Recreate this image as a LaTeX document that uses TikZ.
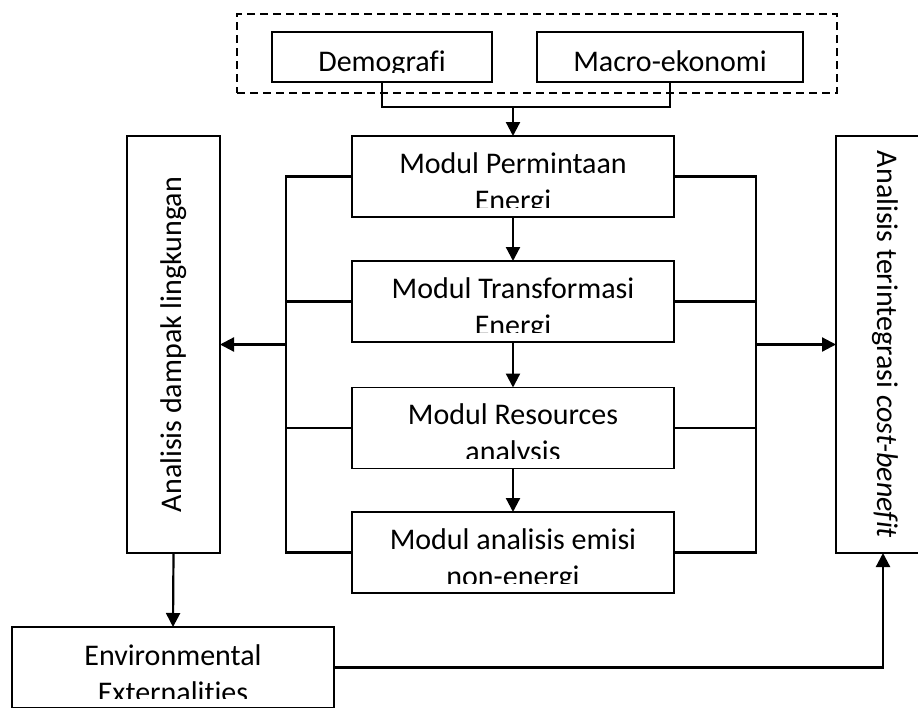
\documentclass[tikz,border=0pt]{standalone}
\usepackage{fontspec}
\setmainfont{Carlito}[Ligatures=NoCommon]
\usetikzlibrary{arrows.meta}
\begin{document}
\begin{tikzpicture}[x=1pt,y=-1pt,
  box/.style={draw, line width=1.5pt, rectangle, inner sep=0pt, outer sep=0pt},
  dashbox/.style={draw, line width=1.5pt, dash pattern=on 8pt off 5pt, rectangle, inner sep=0pt, outer sep=0pt},
  txt/.style={anchor=base, inner sep=0pt, font=\fontsize{30}{37}\selectfont},
  vtxt/.style={inner sep=0pt, font=\fontsize{30}{37}\selectfont},
  conn/.style={line width=2.2pt},
  arr/.style={conn, -{Triangle[length=14pt,width=14pt]}}]
\clip (0,0) rectangle (918,707);
\fill[white] (0,0) rectangle (918,707);

% group of inputs
\node[dashbox, minimum width=600pt, minimum height=79pt] (grp) at (537,53.5) {};
\node[box, minimum width=220pt, minimum height=50pt] (demo) at (382,57) {};
\node[box, minimum width=266pt, minimum height=50pt] (macro) at (670,57) {};
\begin{scope}
  \clip (272,32) rectangle (492,72);
  \node[txt] (demoT) at (382,71) {Demografi};
\end{scope}
\begin{scope}
  \clip (537,32) rectangle (803,72);
  \node[txt] (macroT) at (670,71) {Macro-ekonomi};
\end{scope}

% modules
\node[box, minimum width=322pt, minimum height=81pt] (perm) at (513,176.5) {};
\node[box, minimum width=322pt, minimum height=81pt] (trans) at (513,301.5) {};
\node[box, minimum width=322pt, minimum height=81pt] (res) at (513,428) {};
\node[box, minimum width=322pt, minimum height=81pt] (emisi) at (513,552.5) {};
\begin{scope}
  \clip (352,136) rectangle (674,207);
  \node[txt] (permA) at (513,173) {Modul Permintaan};
  \node[txt] (permB) at (513,210) {Energi};
\end{scope}
\begin{scope}
  \clip (352,261) rectangle (674,332);
  \node[txt] (transA) at (513,298) {Modul Transformasi};
  \node[txt] (transB) at (513,335) {Energi};
\end{scope}
\begin{scope}
  \clip (352,387.5) rectangle (674,458.5);
  \node[txt] (resA) at (513,424.5) {Modul Resources};
  \node[txt] (resB) at (513,461.5) {analysis};
\end{scope}
\begin{scope}
  \clip (352,512) rectangle (674,583);
  \node[txt] (emisiA) at (513,549) {Modul analisis emisi};
  \node[txt] (emisiB) at (513,586) {non-energi};
\end{scope}

% side boxes
\node[box, minimum width=93pt, minimum height=417pt] (left) at (173.5,344.5) {};
\node[vtxt, rotate=90] (leftT) at (173.5,344.5) {Analisis dampak lingkungan};
\node[box, minimum width=94pt, minimum height=417pt] (right) at (883,344.5) {};
\node[vtxt, rotate=-90] (rightT) at (885,344.5) {Analisis terintegrasi \textit{cost-benefit}};

% environmental externalities
\node[box, minimum width=322pt, minimum height=81pt] (env) at (173,667.5) {};
\begin{scope}
  \clip (12,627) rectangle (334,698);
  \node[txt] (envA) at (173,665) {Environmental};
  \node[txt] (envB) at (173,702) {Externalities};
\end{scope}

% connectors
\coordinate (jmid) at (513,107);
\coordinate (lbus) at (286,0);
\coordinate (rbus) at (756,0);
\draw[conn] (demo.south) -- (demo.south |- jmid) -- (macro.south |- jmid) -- (macro.south);
\draw[arr] (jmid) -- (perm.north);
\draw[arr] (perm.south) -- (trans.north);
\draw[arr] (trans.south) -- (res.north);
\draw[arr] (res.south) -- (emisi.north);

\draw[conn] (perm.west) -- (perm.west -| lbus) -- (emisi.west -| lbus) -- (emisi.west);
\draw[conn] (trans.west) -- (trans.west -| lbus);
\draw[conn] (res.west) -- (res.west -| lbus);
\draw[arr] (left.east -| lbus) -- (left.east);

\draw[conn] (perm.east) -- (perm.east -| rbus) -- (emisi.east -| rbus) -- (emisi.east);
\draw[conn] (trans.east) -- (trans.east -| rbus);
\draw[conn] (res.east) -- (res.east -| rbus);
\draw[arr] (right.west -| rbus) -- (right.west);

\draw[arr] (left.south) -- (env.north);
\draw[arr] (env.east) -| (right.south);
\end{tikzpicture}
\end{document}
